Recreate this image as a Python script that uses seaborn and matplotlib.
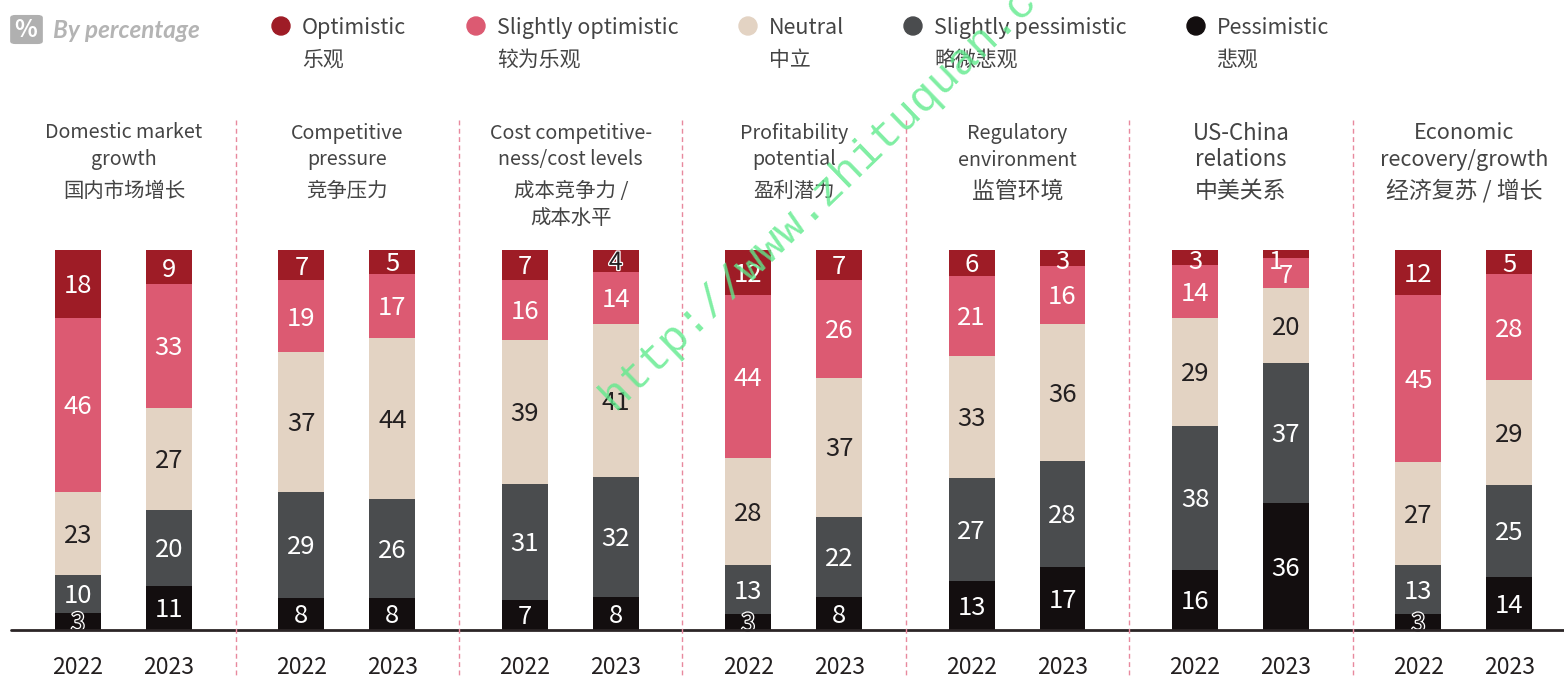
import numpy as np
import pandas as pd
import seaborn as sns
import matplotlib.pyplot as plt
from matplotlib.patches import FancyBboxPatch, Ellipse
import matplotlib.patheffects as pe

# 数据
topics = [
    ["Domestic market", "growth", "国内市场增长"],
    ["Competitive", "pressure", "竞争压力"],
    ["Cost competitive-", "ness/cost levels", "成本竞争力 /", "成本水平"],
    ["Profitability", "potential", "盈利潜力"],
    ["Regulatory", "environment", "监管环境"],
    ["US-China", "relations", "中美关系"],
    ["Economic", "recovery/growth", "经济复苏 / 增长"],
]
years = ["2022", "2023"]

# 标注的数字（每个主题 2022, 2023）
optimistic = [18, 9, 7, 5, 7, 4, 12, 7, 6, 3, 3, 1, 12, 5]
slightly_optimistic = [46, 33, 19, 17, 16, 14, 44, 26, 21, 16, 14, 7, 45, 28]
neutral = [23, 27, 37, 44, 39, 41, 28, 37, 33, 36, 29, 20, 27, 29]
slightly_pessimistic = [10, 20, 29, 26, 31, 32, 13, 22, 27, 28, 38, 37, 13, 25]
pessimistic = [3, 11, 8, 8, 7, 8, 3, 8, 13, 17, 16, 36, 3, 14]

# 图上量出来的实际柱高（和标注不完全一致）
h_optimistic = [17.9, 8.9, 7.9, 6.3, 7.9, 5.8, 11.8, 7.9, 6.8, 4.2, 3.9, 2.1, 11.8, 6.3]
h_slightly_optimistic = [45.8, 32.6, 18.9, 16.8, 15.8, 13.7, 42.9, 25.8, 21.1, 15.3, 13.9, 7.9, 43.9, 27.9]
h_neutral = [21.8, 26.8, 36.8, 42.4, 37.9, 40.3, 28.2, 36.6, 32.1, 36.1, 28.4, 19.7, 27.1, 27.6]
h_slightly_pessimistic = [10.0, 20.0, 27.9, 26.1, 30.5, 31.6, 12.9, 21.1, 27.1, 27.9, 37.9, 36.8, 12.9, 24.2]
h_pessimistic = [4.5, 11.6, 8.4, 8.4, 7.9, 8.7, 4.2, 8.7, 12.9, 16.6, 15.8, 33.4, 4.2, 13.9]

legend_en = ["Optimistic", "Slightly optimistic", "Neutral", "Slightly pessimistic", "Pessimistic"]
legend_cn = ["乐观", "较为乐观", "中立", "略微悲观", "悲观"]
colors = ["#9E1C26", "#DC5A72", "#E3D3C3", "#4A4C4E", "#130E0F"]
label_colors = ["white", "white", "#231F20", "white", "white"]

# 每组标题字号不一样（英文，中文）
title_en_size = [14.2, 14.2, 14.2, 14.2, 14.2, 16.0, 15.6]
title_cn_size = [14.7, 14.7, 14.7, 14.7, 16.5, 16.5, 16.5]

sns.set_theme(style="white")
plt.rcParams["font.family"] = ["Noto Sans CJK SC", "DejaVu Sans"]

W, H = 1564, 676
fig = plt.figure(figsize=(W / 100, H / 100), dpi=100)
ax = fig.add_axes([0, (H - 630) / H, 1, 380 / H])


def px(x, y):
    return x / W, 1 - y / H


def ftext(x, y, s, **kw):
    # 这个字体居中时偏上，统一下移 2 像素
    kw.setdefault("va", "center")
    kw.setdefault("color", "#444444")
    fig.text(*px(x, y + 2), s, **kw)


# 柱子的位置：每组间隔 1，组内第二根偏移 0.407
pos = [i + j * 0.407 for i in range(len(topics)) for j in range(2)]
heights = [h_optimistic, h_slightly_optimistic, h_neutral, h_slightly_pessimistic, h_pessimistic]
labels = [optimistic, slightly_optimistic, neutral, slightly_pessimistic, pessimistic]

# 从最高的累计值开始画，后画的盖住前面的
tops = np.cumsum(np.array(heights[::-1]), axis=0)[::-1]
for k in range(5):
    df = pd.DataFrame({"pos": pos, "top": tops[k]})
    sns.barplot(data=df, x="pos", y="top", native_scale=True, color=colors[k],
                saturation=1, width=0.505, errorbar=None, linewidth=0, ax=ax)

ax.set_xlim(-78 / 223.4, (W - 78) / 223.4)
ax.set_ylim(0, 100)
ax.axis("off")

# 柱内数字
for k in range(5):
    for n, p in enumerate(pos):
        h = heights[k][n]
        y = min(tops[k][n] - h / 2, 97.5) - 0.6  # 顶部太窄的数字往下放
        x = p
        val = labels[k][n]
        if val == 1:
            x = p - 0.045
        if (k == 4 and val == 3) or (k == 0 and val == 4):
            ax.text(x, y, str(val), ha="center", va="center", fontsize=18, color="#231F20",
                    path_effects=[pe.withStroke(linewidth=1.8, foreground="white")])
        else:
            ax.text(x, y, str(val), ha="center", va="center", fontsize=18.5, color=label_colors[k])

# 底部基线和分隔虚线
fig.add_artist(plt.Line2D([11 / W, 1], [1 - 630 / H] * 2, color="#2B2526", lw=2))
for i in range(1, len(topics)):
    xs = 235.5 + 223.4 * (i - 1)
    fig.add_artist(plt.Line2D([xs / W] * 2, [1 - 120 / H, 0], color="#E8899E", lw=1,
                              dashes=(3.5, 2.5)))

# 主题标题和年份
for i, lines in enumerate(topics):
    cx = 124 + 223.4 * i
    for j, line in enumerate(lines):
        y = [131, 158, 189, 216][j]
        size = title_cn_size[i] if any(ord(ch) > 127 for ch in line) else title_en_size[i]
        ftext(cx, y, line, ha="center", fontsize=size)
    for j, yr in enumerate(years):
        ftext(78 + 223.4 * i + 91 * j, 665, yr, ha="center", fontsize=16.5, color="#231F20")

# 图例
legend_x = [281, 476, 748, 913, 1196]
for x, en, cn, c in zip(legend_x, legend_en, legend_cn, colors):
    fig.add_artist(Ellipse(px(x, 26), 18 / W, 18 / H, color=c, transform=fig.transFigure))
    ftext(x + 21, 26, en, fontsize=15.5)
    ftext(x + 21, 58, cn, fontsize=15)

# 左上角 % 标记
fig.add_artist(FancyBboxPatch(px(14, 42), 25 / W, 25 / H, boxstyle="round,pad=0.002,rounding_size=0.003",
                              color="#B0B0B0", transform=fig.transFigure))
ftext(26, 28, "%", ha="center", fontsize=17, fontweight="bold", color="white")
ftext(53, 28, "By percentage", fontsize=17.5, fontweight="bold", style="italic",
      color="#B4B4B4", family="Lato")

# 水印
ftext(607, 400, "http://www.zhituquan.c", ha="left", va="center", rotation=44, rotation_mode="anchor",
      fontsize=32, color="#5FEA8C", alpha=0.8, family="Liberation Mono")

fig.savefig("out.png", dpi=100)
